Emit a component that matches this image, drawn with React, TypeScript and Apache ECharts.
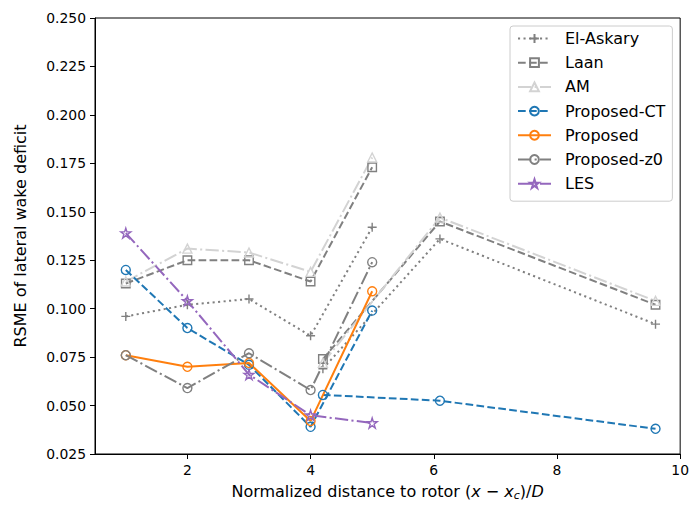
import React, { useEffect, useRef } from "react";
import * as echarts from "echarts";

// x positions (normalized distance to rotor)
const xA = [1, 2, 3, 4, 5];
const xB = [4.2, 6.1, 9.6];

// RSME values
const elAskaryA = [0.096, 0.102, 0.105, 0.086, 0.142];
const elAskaryB = [0.069, 0.136, 0.092];
const laanA = [0.113, 0.125, 0.125, 0.114, 0.173];
const laanB = [0.074, 0.145, 0.102];
const amA = [0.114, 0.131, 0.129, 0.119, 0.178];
const amB = [0.072, 0.147, 0.104];
const proposedCtA = [0.12, 0.09, 0.071, 0.039, 0.099];
const proposedCtB = [0.0555, 0.0525, 0.038];
const proposedA = [0.076, 0.07, 0.072, 0.042, 0.109];
const proposedZ0A = [0.076, 0.059, 0.077, 0.058, 0.124];
const lesA = [0.139, 0.104, 0.066, 0.045, 0.041];

const legendNames = ["El-Askary", "Laan", "AM", "Proposed-CT", "Proposed", "Proposed-z0", "LES"];
const xTicks = [2, 4, 6, 8, 10];

const FONT = "DejaVu Sans";
const GRAY = "#808080";
const LIGHT = "#d3d3d3";
const BLUE = "#1f77b4";
const ORANGE = "#ff7f0e";
const PURPLE = "#9467bd";

const DASHED = [7.7, 3.3];
const DASHDOT = [13.3, 3.3, 2.1, 3.3];
const DOTTED = [2.1, 3.4];

const PLUS = "path://M0,5L10,5M5,0L5,10";
const STAR =
  "path://M10,0L12.245,6.91L19.511,6.91L13.633,11.18L15.878,18.09L10,13.82L4.122,18.09L6.367,11.18L0.489,6.91L7.755,6.91Z";

function pairs(xs: number[], ys: number[]) {
  return xs.map((x, i) => [x, ys[i]]);
}

function mk(
  name: string,
  xs: number[],
  ys: number[],
  color: string,
  dash: any,
  symbol: string,
  size: number
) {
  return {
    type: "line",
    name,
    data: pairs(xs, ys),
    symbol,
    symbolSize: size,
    showSymbol: true,
    lineStyle: { color, width: 2, type: dash },
    itemStyle: { color: "rgba(0,0,0,0)", borderColor: color, borderWidth: 1.4 },
    emphasis: { disabled: true },
  };
}

export default function App() {
  const ref = useRef<HTMLDivElement>(null);
  useEffect(() => {
    if (!ref.current) return;
    const chart = echarts.init(ref.current, undefined, { renderer: "svg" });
    chart.setOption({
      animation: false,
      textStyle: { fontFamily: FONT },
      grid: {
        left: 95,
        right: 10,
        top: 18,
        bottom: 50,
        containLabel: false,
        show: true,
        borderColor: "#000",
        borderWidth: 1,
        backgroundColor: "transparent",
      },
      legend: {
        data: legendNames,
        orient: "vertical",
        left: 510,
        top: 26,
        itemWidth: 33,
        itemHeight: 11,
        itemGap: 7.2,
        padding: [4, 7, 9, 7],
        backgroundColor: "rgba(255,255,255,0.8)",
        borderColor: "#cccccc",
        borderWidth: 1,
        borderRadius: 3,
        textStyle: {
          fontFamily: FONT,
          fontSize: 16,
          color: "#000",
          lineHeight: 17,
          padding: [0, 0, 0, 9],
        },
      },
      xAxis: {
        type: "value",
        min: 0.5,
        max: 10,
        name: "{n|Normalized distance to rotor (}{i|x}{n| − }{i|x}{s|c}{n|)/}{i|D}",
        nameLocation: "middle",
        nameGap: 28,
        nameTextStyle: {
          rich: {
            n: { fontFamily: FONT, fontSize: 16, color: "#000" },
            i: { fontFamily: FONT, fontSize: 16, fontStyle: "italic", color: "#000" },
            s: { fontFamily: FONT, fontSize: 11, fontStyle: "italic", color: "#000", padding: [8, 0, 0, 0] },
          },
        },
        axisLine: { show: true, lineStyle: { color: "#000", width: 1 } },
        axisTick: { show: true, length: 5, lineStyle: { color: "#000" }, customValues: xTicks },
        axisLabel: {
          customValues: xTicks,
          fontFamily: FONT,
          fontSize: 13.9,
          color: "#000",
          margin: 9,
        },
        splitLine: { show: false },
      },
      yAxis: {
        type: "value",
        min: 0.025,
        max: 0.25,
        interval: 0.025,
        name: "RSME of lateral wake deficit",
        nameLocation: "middle",
        nameRotate: 90,
        nameGap: 67,
        nameTextStyle: { fontFamily: FONT, fontSize: 16, color: "#000" },
        axisLine: { show: true, lineStyle: { color: "#000", width: 1 } },
        axisTick: { show: true, length: 5, lineStyle: { color: "#000" } },
        axisLabel: {
          fontFamily: FONT,
          fontSize: 13.9,
          color: "#000",
          margin: 9,
          formatter: (v: number) => v.toFixed(3),
        },
        splitLine: { show: false },
      },
      series: [
        mk("El-Askary", xA, elAskaryA, GRAY, DOTTED, PLUS, 9),
        mk("El-Askary", xB, elAskaryB, GRAY, DOTTED, PLUS, 9),
        mk("Laan", xA, laanA, GRAY, DASHED, "rect", 8.5),
        mk("Laan", xB, laanB, GRAY, DASHED, "rect", 8.5),
        mk("AM", xA, amA, LIGHT, DASHDOT, "triangle", 9),
        mk("AM", xB, amB, LIGHT, DASHDOT, "triangle", 9),
        mk("Proposed-CT", xA, proposedCtA, BLUE, DASHED, "circle", 9),
        mk("Proposed-CT", xB, proposedCtB, BLUE, DASHED, "circle", 9),
        mk("Proposed", xA, proposedA, ORANGE, "solid", "circle", 9),
        mk("Proposed-z0", xA, proposedZ0A, GRAY, DASHDOT, "circle", 9),
        mk("LES", xA, lesA, PURPLE, DASHDOT, STAR, 10),
      ],
    });
    return () => chart.dispose();
  }, []);
  return (
    <div
      ref={ref}
      style={{ position: "fixed", left: 0, top: 0, width: 692, height: 506, background: "#fff" }}
    />
  );
}
